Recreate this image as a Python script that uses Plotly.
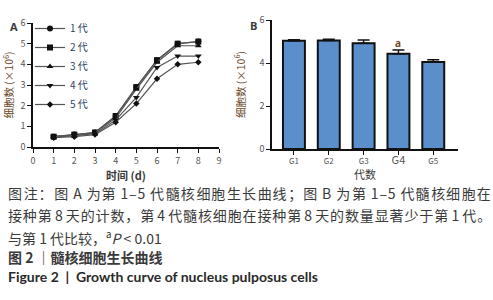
import plotly.graph_objects as go

# ---- data ----
days = [1, 2, 3, 4, 5, 6, 7, 8]
gen_names = ["1 代", "2 代", "3 代", "4 代", "5 代"]
gen1 = [0.50, 0.60, 0.70, 1.50, 2.90, 4.20, 5.00, 5.10]
gen2 = [0.50, 0.60, 0.70, 1.50, 2.90, 4.20, 5.00, 5.10]
gen3 = [0.50, 0.55, 0.70, 1.40, 2.80, 4.10, 4.90, 4.90]
gen4 = [0.50, 0.55, 0.65, 1.30, 2.40, 3.85, 4.40, 4.40]
gen5 = [0.45, 0.50, 0.60, 1.20, 2.10, 3.30, 4.00, 4.10]
growth = [gen1, gen2, gen3, gen4, gen5]
symbols = ["circle", "square", "triangle-up", "triangle-down", "diamond"]

groups = ["G1", "G2", "G3", "G4", "G5"]
group_labels = ["G1", "G2", "G3", '<span style="font-size:11px">G4</span>', "G5"]
day8 = [5.03, 5.05, 4.92, 4.43, 4.05]
day8_err = [0.05, 0.05, 0.15, 0.17, 0.10]

HS = "\u200a"  # hair space, used to spread the justified caption lines


def is_cjk(c):
    return ord(c) > 0x2E80


def spread(s, every=0, cjk=1, cjk_step=1):
    out = s[0]
    k = 0
    for a, b in zip(s, s[1:]):
        n = every
        if is_cjk(a) and is_cjk(b):
            if k % cjk_step == 0:
                n += cjk
            k += 1
        out += HS * n + b
    return out


line1 = "图注：图 A 为第 1–5 代髓核细胞生长曲线；图 B 为第 1–5 代髓核细胞在"
line2 = "接种第 8 天的计数，第 4 代髓核细胞在接种第 8 天的数量显著少于第 1 代。"
captions = [
    spread(line1, every=1, cjk=1, cjk_step=2),
    spread(line2, every=0, cjk=1),
    "与第 1 代比较，<sup>a</sup><i>P</i> < 0.01",
    "<b>图 2 ｜髓核细胞生长曲线</b>",
]
caption_en = "<b>Figure 2  |  Growth curve of nucleus pulposus cells</b>"

CJK = "Noto Sans CJK SC"
TXT = "#3a3a3a"
TITLE = "#6b4a2a"

fig = go.Figure()
for name, ys, sym in zip(gen_names, growth, symbols):
    fig.add_trace(go.Scatter(
        x=days, y=ys, name=name, mode="lines+markers",
        line=dict(color="#555555", width=1.2),
        marker=dict(symbol=sym, size=6 if sym != "diamond" else 5, color="#111111"),
        xaxis="x", yaxis="y",
    ))

fig.add_trace(go.Bar(
    x=groups, y=day8, xaxis="x2", yaxis="y2", showlegend=False,
    width=0.63,
    marker=dict(color="#5b8fcb", line=dict(color="#111111", width=2)),
    error_y=dict(type="data", symmetric=False, array=day8_err,
                 arrayminus=[0] * len(day8_err), color="#111111",
                 thickness=1.5, width=6),
))

axis_common = dict(showgrid=False, zeroline=False, showline=True,
                   linecolor="#111111", linewidth=1.5, ticks="outside",
                   ticklen=4, tickwidth=1.2, tickcolor="#111111",
                   automargin=False,
                   tickfont=dict(size=9, color="#555555", family=CJK))

fig.update_layout(
    width=493, height=300,
    margin=dict(l=0, r=0, t=0, b=0, autoexpand=False),
    paper_bgcolor="white", plot_bgcolor="white",
    font=dict(family=CJK, color=TXT),
    showlegend=True,
    legend=dict(x=30 / 493, y=1 - 14 / 300, xanchor="left", yanchor="top",
                bgcolor="rgba(0,0,0,0)", font=dict(size=10, color="#2f3f66"),
                itemwidth=30, tracegroupgap=0),
    xaxis=dict(domain=[33 / 493, 219 / 493], range=[0, 9], dtick=1, **axis_common,
               title=dict(text="<b>时间 (d)</b>", font=dict(size=11, color=TXT), standoff=2),
               anchor="y"),
    yaxis=dict(domain=[1 - 147 / 300, 1 - 23 / 300], range=[0, 6], dtick=1, **axis_common,
               title=dict(text="细胞数 (×10<sup>6</sup>)", font=dict(size=10.5, color=TITLE), standoff=8),
               anchor="x"),
    xaxis2=dict(domain=[272 / 493, 458 / 493], range=[-0.63, 4.71], **axis_common,
                tickvals=groups, ticktext=group_labels,
                title=dict(text="代数", font=dict(size=11, color=TXT), standoff=2),
                anchor="y2"),
    yaxis2=dict(domain=[1 - 149 / 300, 1 - 20 / 300], range=[0, 6], dtick=2, **axis_common,
                title=dict(text="细胞数 (×10<sup>6</sup>)", font=dict(size=10.5, color=TITLE), standoff=12),
                anchor="x2"),
)
fig.layout.xaxis2.tickfont.size = 8

fig.add_annotation(text="<b>A</b>", x=8 / 493, y=1 - 26 / 300, xref="paper", yref="paper",
                   showarrow=False, font=dict(size=11, color=TXT, family="Open Sans"),
                   xanchor="left", yanchor="middle")
fig.add_annotation(text="<b>B</b>", x=248 / 493, y=1 - 25 / 300, xref="paper", yref="paper",
                   showarrow=False, font=dict(size=11, color=TXT, family="Open Sans"),
                   xanchor="left", yanchor="middle")
fig.add_annotation(text="<b>a</b>", x="G4", y=day8[3] + day8_err[3] + 0.35, xref="x2", yref="y2",
                   showarrow=False, font=dict(size=10, color=TITLE, family="Open Sans"))

ys_px = [193, 215, 237, 257]
for t, yp in zip(captions, ys_px):
    fig.add_annotation(text=t, x=6 / 493, y=1 - yp / 300, xref="paper", yref="paper",
                       showarrow=False, xanchor="left", yanchor="middle",
                       font=dict(size=14, color=TXT, family=CJK))
fig.add_annotation(text=caption_en, x=6 / 493, y=1 - 276 / 300, xref="paper", yref="paper",
                   showarrow=False, xanchor="left", yanchor="middle",
                   font=dict(size=14, color="#2a2a2a", family="Lato"))

fig.write_html("out.html", config={"displayModeBar": False},
               post_script="document.body.style.margin='0';")
